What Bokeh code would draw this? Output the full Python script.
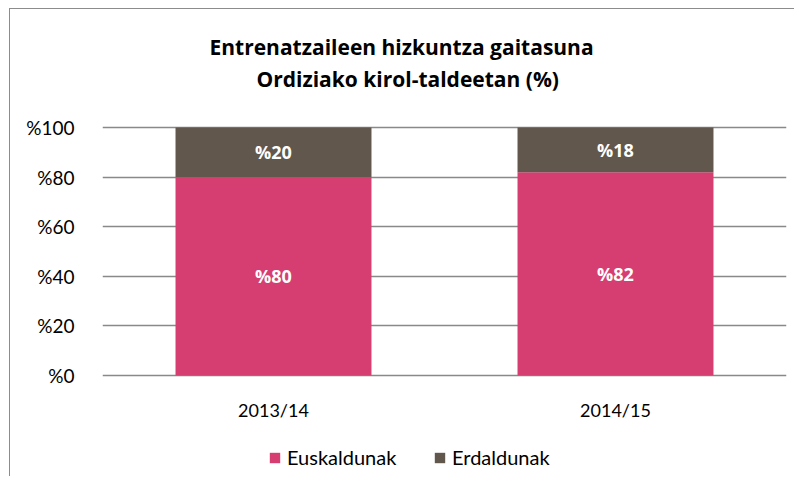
from bokeh.plotting import figure
from bokeh.models import (ColumnDataSource, FactorRange, Range1d, FixedTicker, LabelSet,
                          Legend, LegendItem, Title)
from bokeh.core.properties import value
from bokeh.embed import file_html
from bokeh.resources import INLINE

years = ["2013/14", "2014/15"]
euskaldunak = [80, 82]
erdaldunak = [20, 18]
series = ["Euskaldunak", "Erdaldunak"]
yticks = [0, 20, 40, 60, 80, 100]
title_lines = ["Entrenatzaileen hizkuntza gaitasuna", "Ordiziako kirol-taldeetan (%)"]

PINK = "#D63E72"
BROWN = "#62574C"
GRID = "#898989"
FONT = "Lato"
BFONT = "Open Sans"

src = ColumnDataSource(dict(
    year=years,
    eus=euskaldunak,
    erd=erdaldunak,
    eus_mid=[v / 2 for v in euskaldunak],
    erd_mid=[e + d / 2 for e, d in zip(euskaldunak, erdaldunak)],
    eus_txt=["%" + str(v) for v in euskaldunak],
    erd_txt=["%" + str(v) for v in erdaldunak],
))

# frame spans from just under the titles to the bottom of the canvas,
# so the legend can sit inside it; 0..100 keeps the reference scale
p = figure(width=785, height=468, x_range=FactorRange(*years), y_range=Range1d(-41.13, 113.71),
           output_backend="svg", toolbar_location=None, x_axis_location=None,
           min_border_left=92, min_border_right=9, min_border_top=84, min_border_bottom=0)
p.styles = {"margin-left": "9px", "margin-top": "8px",
            "border-left": "1px solid #8c8c8c", "border-top": "1px solid #8c8c8c"}
p.outline_line_color = None
p.background_fill_color = "white"
p.border_fill_color = "white"

r = p.vbar_stack(["eus", "erd"], x="year", width=0.573, color=[PINK, BROWN], line_color=None,
                 source=src)

for g in p.xgrid:
    g.grid_line_color = None
p.ygrid.ticker = FixedTicker(ticks=yticks)
p.ygrid.grid_line_color = GRID
p.ygrid.grid_line_width = 1.3
p.yaxis.ticker = FixedTicker(ticks=yticks)
p.yaxis.major_label_overrides = {t: "%" + str(t) for t in yticks}
p.yaxis.axis_line_color = None
p.yaxis.major_tick_line_color = None
p.yaxis.minor_tick_line_color = None
p.yaxis.major_label_text_font = FONT
p.yaxis.major_label_text_font_size = "19px"
p.yaxis.major_label_text_color = "#000000"
p.yaxis.major_label_standoff = 22

# category labels under the baseline
p.text(x="year", y=0, text="year", source=src, y_offset=35, text_font=value(FONT),
       text_font_size="18px", text_color="#000000", text_align="center", text_baseline="middle")

for col_y, col_t in (("eus_mid", "eus_txt"), ("erd_mid", "erd_txt")):
    p.add_layout(LabelSet(x="year", y=col_y, text=col_t, source=src, text_color="white",
                          text_font=value(BFONT), text_font_style="bold", text_font_size="18px",
                          text_align="center", text_baseline="middle"))

# title: line 1 outermost, line 2 nearest the plot
p.title.text = title_lines[0]
p.title.align = "left"
p.title.offset = 107
p.title.text_font = BFONT
p.title.text_font_style = "bold"
p.title.text_font_size = "21px"
p.title.text_color = "#000000"
p.title.standoff = 2
p.add_layout(Title(text=title_lines[1], align="left", offset=154, text_font=BFONT,
                   text_font_style="bold", text_font_size="21px", text_color="#000000",
                   standoff=2), "above")

legend = Legend(items=[LegendItem(label=value(s), renderers=[rr]) for s, rr in zip(series, r)],
                orientation="horizontal", location=(166, 8),
                glyph_width=13, glyph_height=13, label_standoff=6, label_width=121, spacing=25,
                padding=0, margin=0, border_line_color=None, background_fill_alpha=0,
                label_text_font=FONT, label_text_font_size="20px", label_text_color="#000000")
p.add_layout(legend, "center")

open("out.html", "w").write(file_html(p, INLINE))
